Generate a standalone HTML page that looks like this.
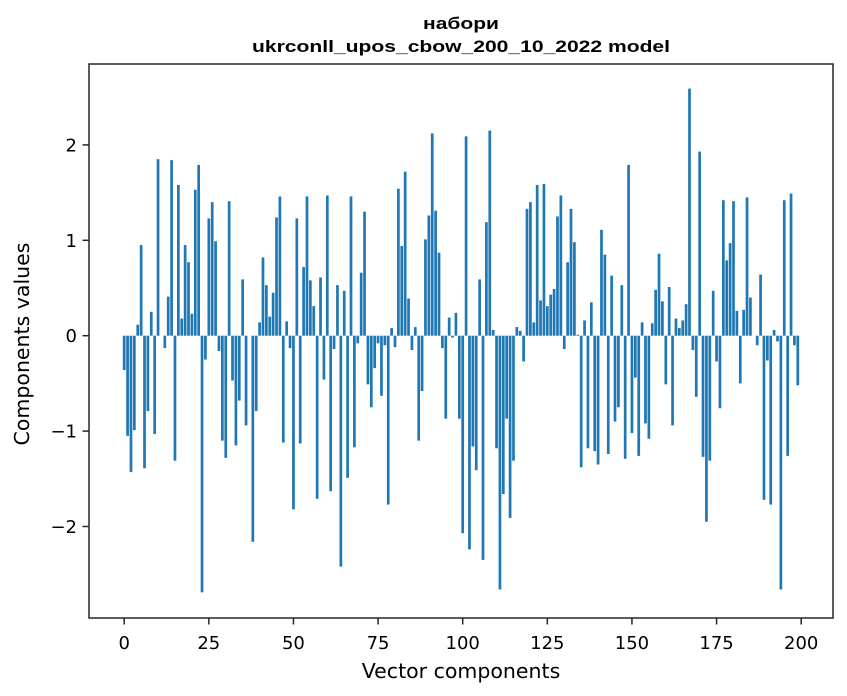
<!DOCTYPE html>
<html><head><meta charset="utf-8"><style>
html,body{margin:0;padding:0;background:#fff;}
svg{display:block;}
.d{font-family:"DejaVu Sans","Liberation Sans",sans-serif;fill:#000;}
.t{font-family:"Liberation Sans",sans-serif;font-weight:bold;fill:#000;}
</style></head><body>
<svg id="s" width="847" height="696" viewBox="0 0 847 696" xmlns="http://www.w3.org/2000/svg">
<rect width="847" height="696" fill="#fff"/>
<g id="bars" fill="#1f77b4"></g>
<rect x="89" y="64" width="744" height="554" fill="none" stroke="#262626" stroke-width="1.5"/>
<g id="ticks" stroke="#262626" stroke-width="1.5"></g>
<g id="labels" class="d" font-size="18"></g>
<text class="t" x="461" y="29" text-anchor="middle" font-size="17" textLength="76" lengthAdjust="spacingAndGlyphs">набори</text>
<text class="t" x="461" y="52" text-anchor="middle" font-size="17" textLength="418" lengthAdjust="spacingAndGlyphs">ukrconll_upos_cbow_200_10_2022 model</text>
<text class="d" x="461" y="678" text-anchor="middle" font-size="20.5">Vector components</text>
<text class="d" transform="translate(29,344) rotate(-90)" text-anchor="middle" font-size="20.5">Components values</text>
</svg>
<script>
var v=[-0.36,-1.05,-1.43,-0.99,0.115,0.95,-1.39,-0.79,0.25,-1.03,1.85,0,-0.13,0.41,1.84,-1.31,1.58,0.18,0.95,0.77,0.23,1.53,1.79,-2.69,-0.25,1.23,1.40,0.99,-0.16,-1.10,-1.28,1.41,-0.47,-1.15,-0.68,0.59,-0.94,0,-2.16,-0.79,0.14,0.82,0.53,0.20,0.45,1.24,1.46,-1.12,0.15,-0.13,
-1.82,1.23,-1.13,0.72,1.46,0.58,0.31,-1.71,0.61,-0.46,1.47,-1.63,-0.14,0.53,-2.42,0.47,-1.49,1.46,-1.17,-0.08,0.66,1.30,-0.51,-0.75,-0.34,-0.08,-0.63,-0.10,-1.77,0.08,-0.12,1.54,0.94,1.72,0.39,-0.15,0.09,-1.10,-0.58,1.01,1.26,2.12,1.31,0.87,-0.13,-0.87,0.19,-0.02,0.24,-0.87,
-2.07,2.09,-2.24,-1.16,-1.41,0.59,-2.35,1.19,2.15,0.06,-1.18,-2.66,-1.66,-0.87,-1.91,-1.31,0.09,0.05,-0.27,1.33,1.40,0.14,1.58,0.37,1.59,0.31,0.43,0.49,1.25,1.47,-0.14,0.77,1.33,0.98,0.01,-1.38,0.16,-1.18,0.35,-1.21,-1.35,1.11,0.85,-1.24,0.63,-0.90,-0.75,0.53,-1.29,1.79,
-1.02,-0.44,-1.26,0.14,-0.92,-1.08,0.13,0.48,0.86,0.36,-0.51,0.51,-0.94,0.18,0.08,0.16,0.33,2.59,-0.15,-0.64,1.93,-1.27,-1.95,-1.31,0.47,-0.27,-0.76,1.42,0.79,0.97,1.41,0.26,-0.50,0.27,1.45,0.40,0,-0.10,0.64,-1.72,-0.26,-1.77,0.06,-0.06,-2.66,1.42,-1.26,1.49,-0.10,-0.52];
var NS="http://www.w3.org/2000/svg";
function X(d){return 124.2+d*3.385;}
function Y(d){return 335.7-d*95.4;}
var g=document.getElementById('bars');
for(var i=0;i<v.length;i++){var r=document.createElementNS(NS,'rect');var y0=Y(0),y1=Y(v[i]);
r.setAttribute('x',X(i)-1.354);r.setAttribute('width',2.708);r.setAttribute('y',Math.min(y0,y1));r.setAttribute('height',Math.abs(y1-y0));g.appendChild(r);}
var t=document.getElementById('ticks'),l=document.getElementById('labels');
function line(a,b,c,d){var e=document.createElementNS(NS,'line');e.setAttribute('x1',a);e.setAttribute('y1',b);e.setAttribute('x2',c);e.setAttribute('y2',d);t.appendChild(e);}
function txt(x,y,s,a){var e=document.createElementNS(NS,'text');e.setAttribute('x',x);e.setAttribute('y',y);e.setAttribute('text-anchor',a);e.textContent=s;l.appendChild(e);}
for(var k=0;k<=200;k+=25){line(X(k),618,X(k),624.5);txt(X(k),649,String(k),'middle');}
for(var k=-2;k<=2;k++){line(89,Y(k),82.5,Y(k));txt(77,Y(k)+6.5,(k<0?'\u2212'+(-k):String(k)),'end');}
</script>
</body></html>
